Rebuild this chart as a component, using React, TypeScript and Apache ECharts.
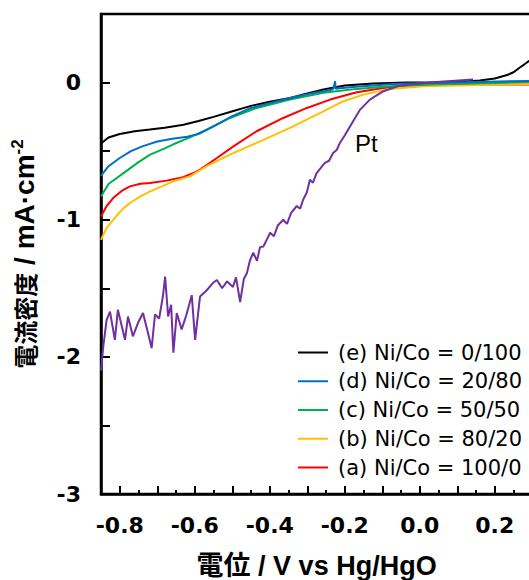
import React, { useEffect, useRef } from "react";
import * as echarts from "echarts";

// ---- data ----
const eX = [-0.85, -0.83, -0.8, -0.76, -0.72, -0.68, -0.63, -0.59, -0.55, -0.506, -0.45, -0.4, -0.346, -0.3, -0.257, -0.2, -0.124, -0.035, 0.05, 0.12, 0.16, 0.2, 0.233, 0.25, 0.267, 0.28, 0.3];
const eY = [-0.445, -0.4, -0.375, -0.355, -0.343, -0.33, -0.307, -0.28, -0.25, -0.215, -0.17, -0.14, -0.112, -0.08, -0.051, -0.022, -0.007, 0, 0.002, 0.008, 0.015, 0.03, 0.055, 0.075, 0.11, 0.135, 0.175];

const dX = [-0.85, -0.83, -0.8, -0.77, -0.74, -0.7, -0.66, -0.62, -0.59, -0.55, -0.5, -0.45, -0.4, -0.346, -0.3, -0.257, -0.232, -0.228, -0.226, -0.224, -0.213, -0.17, -0.124, -0.08, -0.035, 0.05, 0.15, 0.3];
const dY = [-0.68, -0.61, -0.55, -0.5, -0.465, -0.43, -0.41, -0.395, -0.375, -0.32, -0.245, -0.185, -0.15, -0.112, -0.085, -0.063, -0.05, -0.02, 0.01, -0.045, -0.042, -0.03, -0.022, -0.013, -0.007, -0.002, 0.005, 0.012];

const cX = [-0.85, -0.83, -0.79, -0.75, -0.719, -0.68, -0.657, -0.613, -0.568, -0.506, -0.435, -0.346, -0.257, -0.168, -0.079, 0.009, 0.1, 0.2, 0.3];
const cY = [-0.83, -0.74, -0.66, -0.58, -0.525, -0.48, -0.45, -0.4, -0.343, -0.258, -0.185, -0.124, -0.075, -0.046, -0.027, -0.015, -0.008, -0.003, 0.005];

const bX = [-0.85, -0.835, -0.817, -0.795, -0.773, -0.745, -0.719, -0.657, -0.613, -0.568, -0.506, -0.435, -0.346, -0.257, -0.204, -0.15, -0.079, 0.009, 0.187, 0.3];
const bY = [-1.146, -1.06, -1.0, -0.93, -0.878, -0.83, -0.793, -0.72, -0.684, -0.61, -0.526, -0.44, -0.33, -0.21, -0.136, -0.088, -0.046, -0.027, -0.015, -0.01];

const aX = [-0.85, -0.835, -0.817, -0.795, -0.773, -0.745, -0.719, -0.675, -0.631, -0.6, -0.586, -0.541, -0.497, -0.435, -0.364, -0.301, -0.239, -0.168, -0.097, -0.035, 0.05, 0.15, 0.3];
const aY = [-0.976, -0.9, -0.84, -0.79, -0.757, -0.738, -0.732, -0.715, -0.69, -0.655, -0.635, -0.55, -0.465, -0.355, -0.258, -0.185, -0.124, -0.07, -0.039, -0.022, -0.015, -0.013, -0.015];

const ptX = [-0.85, -0.844, -0.835, -0.826, -0.813, -0.805, -0.786, -0.778, -0.765, -0.751, -0.738, -0.727, -0.715, -0.706, -0.695, -0.685, -0.679, -0.671, -0.663, -0.657, -0.648, -0.635, -0.623, -0.608, -0.599, -0.586, -0.57, -0.551, -0.541, -0.527, -0.514, -0.498, -0.49, -0.479, -0.469, -0.461, -0.453, -0.444, -0.434, -0.426, -0.417, -0.407, -0.399, -0.389, -0.378, -0.364, -0.354, -0.343, -0.328, -0.319, -0.311, -0.301, -0.293, -0.285, -0.275, -0.266, -0.253, -0.242, -0.231, -0.221, -0.213, -0.199, -0.186, -0.173, -0.159, -0.133, -0.097, -0.053, 0.035, 0.142];
const ptY = [-2.1, -1.925, -1.73, -1.67, -1.876, -1.657, -1.876, -1.706, -1.85, -1.75, -1.68, -1.8, -1.936, -1.69, -1.72, -1.56, -1.414, -1.706, -1.62, -1.97, -1.68, -1.8, -1.7, -1.55, -1.876, -1.56, -1.52, -1.46, -1.44, -1.5, -1.45, -1.49, -1.42, -1.6, -1.43, -1.39, -1.3, -1.24, -1.3, -1.2, -1.195, -1.14, -1.095, -1.12, -1.04, -1.0, -1.03, -0.95, -0.9, -0.92, -0.854, -0.8, -0.708, -0.73, -0.66, -0.63, -0.586, -0.57, -0.513, -0.49, -0.44, -0.38, -0.32, -0.26, -0.197, -0.124, -0.063, -0.022, 0.002, 0.022];

const seriesNames = ["(e) Ni/Co = 0/100", "(d) Ni/Co = 20/80", "(c) Ni/Co = 50/50", "(b) Ni/Co = 80/20", "(a) Ni/Co = 100/0"];
const ptName = "Pt";

const xMajorTicks = [-0.8, -0.7, -0.6, -0.5, -0.4, -0.3, -0.2, -0.1, 0, 0.1, 0.2, 0.3];
const xMinorTicks = [-0.75, -0.65, -0.55, -0.45, -0.35, -0.25, -0.15, -0.05, 0.05, 0.15, 0.25];
const xLabelValues = [-0.8, -0.6, -0.4, -0.2, 0, 0.2];

const zip = (xs: number[], ys: number[]) => xs.map((x, i) => [x, ys[i]]);

const TICK_FONT = "DejaVu Sans";
const TITLE_FONT = "Liberation Sans, Arial, 'Noto Sans CJK JP'";

export default function App() {
  const ref = useRef<HTMLDivElement>(null);
  useEffect(() => {
    if (!ref.current) return;
    const chart = echarts.init(ref.current, undefined, { renderer: "svg" });
    const line = (name: string, color: string, data: number[][], z: number) => ({
      name,
      type: "line",
      data,
      xAxisIndex: 0,
      yAxisIndex: 0,
      showSymbol: false,
      symbol: "none",
      z,
      lineStyle: { color, width: 2 },
      itemStyle: { color },
    });
    chart.setOption({
      animation: false,
      backgroundColor: "#ffffff",
      grid: {
        left: 101,
        top: 14,
        width: 431.25,
        bottom: 86,
        show: true,
        borderColor: "#000",
        borderWidth: 2.5,
        backgroundColor: "transparent",
        containLabel: false,
        outerBoundsMode: "none",
      },
      xAxis: [
        {
          type: "value",
          min: -0.85,
          max: 0.3,
          position: "bottom",
          name: "電位 / V vs Hg/HgO",
          nameLocation: "middle",
          nameGap: 58,
          nameTextStyle: { fontFamily: TITLE_FONT, fontWeight: "bold", fontSize: 27, color: "#000" },
          axisLine: { show: true, onZero: false, lineStyle: { color: "#000", width: 2.5 } },
          axisTick: { show: true, inside: true, length: 8, customValues: xMajorTicks, lineStyle: { color: "#000", width: 2 } },
          axisLabel: {
            show: true,
            customValues: xLabelValues,
            margin: 20,
            fontFamily: TICK_FONT,
            fontWeight: "bold",
            fontSize: 22,
            color: "#000",
            formatter: (v: number) => v.toFixed(1),
          },
          splitLine: { show: false },
        },
        {
          type: "value",
          min: -0.85,
          max: 0.3,
          position: "bottom",
          axisLine: { show: false, onZero: false },
          axisTick: { show: true, inside: true, length: 4, customValues: xMinorTicks, lineStyle: { color: "#000", width: 2 } },
          axisLabel: { show: false },
          splitLine: { show: false },
        },
      ],
      yAxis: {
        type: "value",
        min: -3,
        max: 0.5,
        interval: 0.5,
        name: "{a|電流密度}{b| / mA·cm}{c|-2}",
        nameLocation: "middle",
        nameGap: 62,
        nameTextStyle: {
          color: "#000",
          rich: {
            a: { fontFamily: "'Noto Sans CJK JP'", fontWeight: "bold", fontSize: 24, color: "#000", lineHeight: 30 },
            b: { fontFamily: TITLE_FONT, fontWeight: "bold", fontSize: 28, color: "#000", lineHeight: 30 },
            c: { fontFamily: TITLE_FONT, fontWeight: "bold", fontSize: 17, color: "#000", verticalAlign: "top", lineHeight: 30 },
          },
        },
        axisLine: { show: true, onZero: false, lineStyle: { color: "#000", width: 2.5 } },
        axisTick: { show: true, inside: true, length: 9, lineStyle: { color: "#000", width: 2 } },
        axisLabel: {
          margin: 20,
          fontFamily: TICK_FONT,
          fontWeight: "bold",
          fontSize: 22,
          color: "#000",
          formatter: (v: number) => (Number.isInteger(v) ? String(v) : ""),
        },
        splitLine: { show: false },
      },
      legend: {
        show: true,
        orient: "vertical",
        left: 293,
        top: 337,
        itemWidth: 30,
        itemHeight: 2,
        itemGap: 7.75,
        icon: "rect",
        selectedMode: false,
        data: seriesNames,
        textStyle: { fontFamily: TICK_FONT, fontSize: 21, color: "#000", lineHeight: 21, padding: [0, 0, 0, 5] },
      },
      graphic: [
        {
          type: "text",
          x: 355,
          y: 143,
          style: { text: ptName, fill: "#000", font: "24px 'Liberation Sans', Arial", textAlign: "left", textVerticalAlign: "middle" },
        },
      ],
      series: [
        line(seriesNames[4], "#FF0000", zip(aX, aY), 2),
        line(seriesNames[3], "#FFC000", zip(bX, bY), 3),
        line(seriesNames[2], "#00B050", zip(cX, cY), 4),
        line(seriesNames[0], "#000000", zip(eX, eY), 5),
        line(seriesNames[1], "#0070C0", zip(dX, dY), 6),
        line(ptName, "#7030A0", zip(ptX, ptY), 7),
      ],
    });
    return () => chart.dispose();
  }, []);
  return (
    <div style={{ position: "fixed", left: 0, top: 0, width: 529, height: 580, overflow: "hidden", background: "#fff" }}>
      <div ref={ref} style={{ width: 540, height: 580 }} />
    </div>
  );
}
